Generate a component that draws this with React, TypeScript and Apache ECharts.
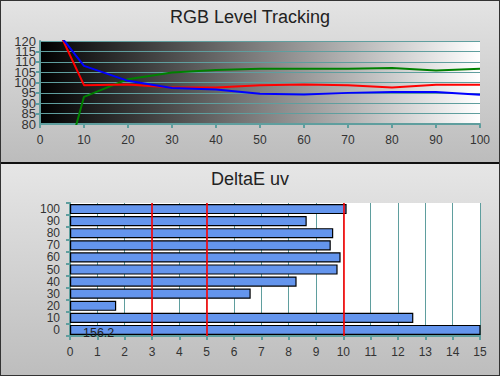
import React, { useEffect, useRef } from "react";
import * as echarts from "echarts";

const levels = [0, 10, 20, 30, 40, 50, 60, 70, 80, 90, 100];
const redValues = [144, 98.7, 99.0, 97.6, 97.6, 98.7, 99.0, 98.7, 97.6, 98.9, 98.9];
const greenValues = [16, 93.1, 101.6, 104.8, 106.0, 106.6, 106.6, 106.6, 107.0, 105.8, 106.6];
const blueValues = [135, 108.0, 100.8, 97.4, 96.6, 94.6, 94.2, 95.0, 95.4, 95.4, 94.1];

const deltaCategories = ["0", "10", "20", "30", "40", "50", "60", "70", "80", "90", "100"];
const deltaValues = [156.2, 12.56, 1.69, 6.61, 8.29, 9.79, 9.9, 9.54, 9.63, 8.66, 10.12];
const thresholdLines = [3, 5, 10];

const TEAL = "#5f9e9e";
const FONT = "Liberation Sans, Arial, sans-serif";
const NARROW = "Liberation Sans Narrow, Arial Narrow, Liberation Sans, sans-serif";

export default function App() {
  const ref = useRef<HTMLDivElement>(null);
  useEffect(() => {
    if (!ref.current) return;
    const chart = echarts.init(ref.current, undefined, { renderer: "svg" });
    const pairs = (vals: number[]) => levels.map((x, i) => [x, vals[i]]);
    const axisCommon = {
      axisLine: { show: true, lineStyle: { color: TEAL, width: 2 } },
      axisTick: { show: true, length: 4, lineStyle: { color: TEAL, width: 2 } },
      axisLabel: { color: "#333", fontSize: 12, fontFamily: FONT },
    };
    const yLabel = {
      color: "#333",
      fontFamily: NARROW,
      fontSize: 13,
      lineHeight: 9,
      margin: 4,
    };
    chart.setOption({
      animation: false,
      backgroundColor: "transparent",
      textStyle: { fontFamily: FONT },
      title: [
        {
          text: "RGB Level Tracking",
          left: "center",
          top: 3,
          textStyle: { fontSize: 18, fontWeight: "normal", color: "#222", fontFamily: FONT },
        },
        {
          text: "DeltaE uv",
          left: "center",
          top: 165,
          textStyle: { fontSize: 18, fontWeight: "normal", color: "#222", fontFamily: FONT },
        },
      ],
      grid: [
        {
          left: 40,
          top: 41,
          width: 440,
          height: 83,
          show: true,
          borderWidth: 0,
          backgroundColor: new echarts.graphic.LinearGradient(0, 0, 1, 0, [
            { offset: 0, color: "#000000" },
            { offset: 1, color: "#ffffff" },
          ]),
        },
        {
          left: 70,
          top: 203,
          width: 410,
          height: 133,
          show: true,
          borderWidth: 0,
          backgroundColor: "#ffffff",
        },
      ],
      xAxis: [
        {
          gridIndex: 0,
          type: "value",
          min: 0,
          max: 100,
          interval: 10,
          ...axisCommon,
          axisLabel: { ...axisCommon.axisLabel, fontSize: 12, margin: 10, showMinLabel: true, showMaxLabel: true },
          splitLine: { show: false },
        },
        {
          gridIndex: 1,
          type: "value",
          min: 0,
          max: 15,
          interval: 1,
          ...axisCommon,
          axisLabel: { ...axisCommon.axisLabel, fontSize: 12, margin: 10, showMinLabel: true, showMaxLabel: true },
          splitLine: { show: true, lineStyle: { color: TEAL, width: 1 } },
        },
      ],
      yAxis: [
        {
          gridIndex: 0,
          type: "value",
          position: "left",
          offset: 0,
          min: 80,
          max: 120,
          interval: 5,
          ...axisCommon,
          axisLabel: {
            ...yLabel,
            showMinLabel: false,
            showMaxLabel: false,
            formatter: (v: number) => (v % 10 === 0 ? "" : String(v)),
          },
          splitLine: { show: true, lineStyle: { color: TEAL, width: 1 } },
        },
        {
          gridIndex: 1,
          type: "category",
          data: deltaCategories,
          ...axisCommon,
          axisLabel: {
            ...axisCommon.axisLabel,
            margin: 10,
            fontSize: 12,
            lineHeight: 10,
            interval: 0,
            showMinLabel: true,
            showMaxLabel: true,
          },
          axisTick: { ...axisCommon.axisTick, interval: 0 },
          splitLine: { show: false },
        },
        {
          gridIndex: 0,
          type: "value",
          position: "left",
          offset: 0,
          min: 80,
          max: 120,
          interval: 10,
          axisLine: { show: false },
          axisTick: { show: false },
          splitLine: { show: false },
          axisLabel: { ...yLabel, showMinLabel: true, showMaxLabel: true },
        },
      ],
      series: [
        {
          type: "line",
          xAxisIndex: 0,
          yAxisIndex: 0,
          data: pairs(greenValues),
          showSymbol: false,
          clip: true,
          lineStyle: { color: "#008000", width: 2 },
        },
        {
          type: "line",
          xAxisIndex: 0,
          yAxisIndex: 0,
          data: pairs(redValues),
          showSymbol: false,
          clip: true,
          lineStyle: { color: "#ff0000", width: 2 },
        },
        {
          type: "line",
          xAxisIndex: 0,
          yAxisIndex: 0,
          data: pairs(blueValues),
          showSymbol: false,
          clip: true,
          lineStyle: { color: "#0000ff", width: 2 },
        },
        {
          type: "bar",
          xAxisIndex: 1,
          yAxisIndex: 1,
          data: deltaValues.map((v, i) =>
            i === 0
              ? {
                  value: v,
                  label: {
                    show: true,
                    position: "insideLeft",
                    distance: 13,
                    offset: [0, 3],
                    formatter: "{c}",
                    color: "#222",
                    fontSize: 12.5,
                    fontFamily: FONT,
                  },
                }
              : v
          ),
          clip: true,
          barCategoryGap: "16%",
          itemStyle: { color: "#6495ed", borderColor: "#000", borderWidth: 1.2 },
          markLine: {
            silent: true,
            symbol: "none",
            label: { show: false },
            lineStyle: { color: "#ff0000", width: 1.6, type: "solid" },
            data: thresholdLines.map((x) => ({ xAxis: x })),
          },
        },
      ],
    });
    return () => chart.dispose();
  }, []);
  return (
    <div
      style={{
        position: "fixed",
        left: 0,
        top: 0,
        width: 500,
        height: 376,
        background:
          "linear-gradient(to bottom, #e4e4e4 0px, #bcbcbc 162px, #111 162px, #111 164px, #e6e6e6 164px, #bdbdbd 376px)",
        boxShadow: "inset 0 0 0 1px #333",
      }}
    >
      <div ref={ref} style={{ width: 500, height: 376 }} />
    </div>
  );
}
